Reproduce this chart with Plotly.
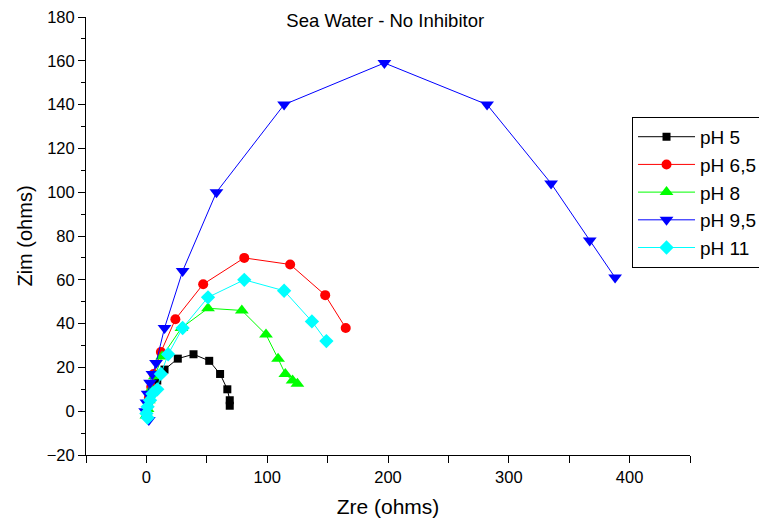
import plotly.graph_objects as go

names = ["pH 5", "pH 6,5", "pH 8", "pH 9,5", "pH 11"]

zre_ph5 = [0, 1, 2, 4, 6, 9, 15, 26, 39, 52, 61, 67, 69, 69]
zim_ph5 = [-1, 1, 4, 8, 11, 14, 19, 24, 26, 23, 17, 10, 5, 2.5]

zre_ph65 = [0, 1, 2, 4, 6, 12, 24, 47, 81, 119, 148, 165]
zim_ph65 = [-1, 2, 6, 11, 17, 27, 42, 58, 70, 67, 53, 38]

zre_ph8 = [0, 1, 2, 4, 7, 13, 29, 51, 79, 99, 109, 115, 121, 125]
zim_ph8 = [-2, 1, 5, 10, 16, 25, 38, 47, 46, 35, 24, 17, 14, 12.5]

zre_ph95 = [2, -1, 0, 1, 3, 5, 8, 15, 30, 58, 114, 197, 282, 335, 367, 388]
zim_ph95 = [-4, 0, 4, 8, 13, 17, 22, 38, 64, 100, 140, 159, 140, 104, 78, 61]

zre_ph11 = [1, 0, 1, 3, 5, 9, 12, 18, 30, 51, 81, 114, 137, 149]
zim_ph11 = [-3, -1, 2, 5, 8, 10, 17, 26, 38, 52, 60, 55, 41, 32]

colors = ["#000000", "#FF0000", "#00FF00", "#0000FF", "#00FFFF"]
symbols = ["square", "circle", "triangle-up", "triangle-down", "diamond"]
sizes = [8, 10, 12, 12, 11]
xs = [zre_ph5, zre_ph65, zre_ph8, zre_ph95, zre_ph11]
ys = [zim_ph5, zim_ph65, zim_ph8, zim_ph95, zim_ph11]

fig = go.Figure()
for n, x, y, c, s, sz in zip(names, xs, ys, colors, symbols, sizes):
    fig.add_trace(go.Scatter(
        x=x, y=y, name=n, mode="lines+markers",
        line=dict(color=c, width=1),
        marker=dict(color=c, symbol=s, size=sz, line=dict(width=0)),
    ))

font = "Liberation Sans, Arial, sans-serif"
fig.update_layout(
    width=759, height=519,
    margin=dict(l=78, r=77, t=9, b=72, autoexpand=False),
    paper_bgcolor="white", plot_bgcolor="white",
    font=dict(family=font, color="black", size=16),
    title=dict(text="Sea Water - No Inhibitor", x=0.497, xanchor="center",
               y=0.976, yanchor="middle", font=dict(size=18.5)),
    legend=dict(x=0.904, y=0.772, xanchor="left", yanchor="top",
                bordercolor="black", borderwidth=1, bgcolor="white",
                font=dict(size=19), tracegroupgap=0, itemwidth=57,
                entrywidth=150, entrywidthmode="pixels"),
    showlegend=True,
)
fig.update_xaxes(
    range=[-50, 450], showline=True, linecolor="black", linewidth=1,
    showgrid=False, zeroline=False, ticks="outside", ticklen=7,
    tickcolor="black", tickvals=[0, 100, 200, 300, 400], automargin=False,
    minor=dict(tickvals=[-50, 50, 150, 250, 350, 450], ticks="outside",
               ticklen=7, tickcolor="black"),
    tickfont=dict(size=16.5), ticklabeloverflow="allow",
    title=dict(text="Zre (ohms)", font=dict(size=21), standoff=14),
)
fig.update_yaxes(
    range=[-20, 180], showline=True, linecolor="black", linewidth=1,
    showgrid=False, zeroline=False, ticks="outside", ticklen=7,
    tickcolor="black", dtick=20, tick0=0, automargin=False,
    minor=dict(dtick=10, ticks="outside", ticklen=4, tickcolor="black"),
    tickfont=dict(size=16.5), ticklabeloverflow="allow",
    title=dict(text="Zim (ohms)", font=dict(size=20), standoff=8),
)
fig.write_html("out.html")
